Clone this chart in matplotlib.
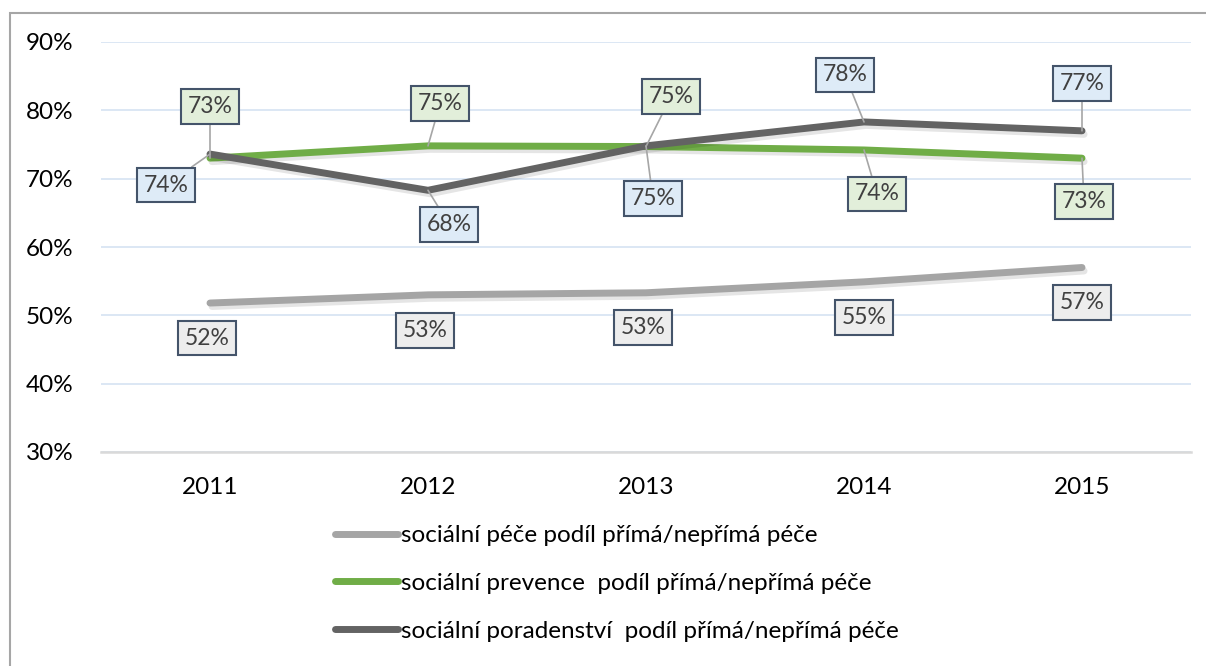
import matplotlib.pyplot as plt
import matplotlib.patheffects as pe
from matplotlib.lines import Line2D
from matplotlib.patches import Rectangle
from matplotlib.ticker import PercentFormatter

plt.rcParams['font.family'] = ['Lato', 'DejaVu Sans']

years = ['2011', '2012', '2013', '2014', '2015']
pece = [0.518, 0.530, 0.533, 0.549, 0.570]
prevence = [0.730, 0.748, 0.747, 0.742, 0.730]
poradenstvi = [0.736, 0.683, 0.748, 0.783, 0.770]

names = ['sociální péče podíl přímá/nepřímá péče',
         'sociální prevence  podíl přímá/nepřímá péče',
         'sociální poradenství  podíl přímá/nepřímá péče']

# label offsets in pixels from each point
off_pece = [(-3, -35), (-3, -36), (-3, -35), (0, -36), (0, -35)]
off_prev = [(0, 52), (12, 42), (25, 50), (13, -44), (2, -43)]
off_por = [(-44, -31), (21, -34), (7, -53), (-19, 47), (0, 47)]

fig = plt.figure(figsize=(12.06, 6.66), dpi=100)
ax = fig.add_axes([101 / 1206, 1 - 452 / 666, 1090 / 1206, 410 / 666])

# outer frame (right and bottom edge fall outside the picture)
fig.patches.append(Rectangle((10 / 1206, -0.1), 1.2, 1 - 13 / 666 + 0.1,
                             transform=fig.transFigure, fill=False,
                             ec='#a6a6a6', lw=1.5))

x = range(len(years))
shadow = [pe.SimpleLineShadow(offset=(1.5, -2.5), shadow_color='black', alpha=0.1), pe.Normal()]

series = [
    (pece, '#a5a5a5', '#ededed', off_pece, False),
    (prevence, '#70ad47', '#e2efda', off_prev, True),
    (poradenstvi, '#636363', '#deebf7', off_por, True),
]

for vals, col, fill, offs, leader in series:
    ax.plot(x, vals, color=col, lw=5, solid_capstyle='round', solid_joinstyle='round',
            path_effects=shadow, clip_on=False, zorder=3)
    for i, v in enumerate(vals):
        ax.annotate(f'{v * 100:.0f}%', (i, v), xytext=offs[i], textcoords='offset pixels',
                    ha='center', va='center', fontsize=16.5, color='#404040', zorder=5,
                    bbox=dict(boxstyle='square,pad=0.3', fc=fill, ec='#44546a', lw=1.5),
                    arrowprops=dict(arrowstyle='-', color='#a6a6a6', lw=1.2,
                                    shrinkA=0, shrinkB=0) if leader else None)

ax.set_xlim(-0.5, 4.5)
ax.set_ylim(0.3, 0.9)
ax.set_yticks([0.3, 0.4, 0.5, 0.6, 0.7, 0.8, 0.9])
ax.yaxis.set_major_formatter(PercentFormatter(1.0, decimals=0))
ax.set_xticks(list(x))
ax.set_xticklabels(years)
ax.grid(axis='y', color='#d6e3f2', lw=1.2)
ax.set_axisbelow(True)
for s in ['top', 'right', 'left']:
    ax.spines[s].set_visible(False)
ax.spines['bottom'].set_color('#d9d9d9')
ax.spines['bottom'].set_linewidth(1.8)
ax.tick_params(length=0, labelsize=17.5, colors='black')
ax.tick_params(axis='y', pad=20)
ax.tick_params(axis='x', pad=18)

handles = [Line2D([], [], color=c, lw=5, solid_capstyle='round') for c in ['#a5a5a5', '#70ad47', '#636363']]
fig.legend(handles, names, loc='upper left', bbox_to_anchor=(323 / 1206, 1 - 513 / 666),
           frameon=False, fontsize=17.5, handlelength=2.6, handletextpad=0.12,
           labelspacing=1.1, borderpad=0)

fig.savefig('out.png', dpi=100)
